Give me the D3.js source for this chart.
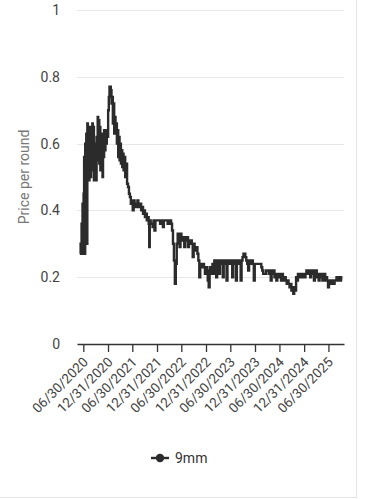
<!DOCTYPE html>
<html><head><meta charset="utf-8">
<script src="https://cdn.jsdelivr.net/npm/d3@7"></script>
<style>
html,body{margin:0;padding:0;background:#fff;}
svg{display:block;font-family:Roboto,"Noto Sans",Arial,sans-serif;}
</style></head>
<body><svg id="c" width="370" height="499"></svg>
<script>
const seriesName = "9mm";
const yTicks = [0, 0.2, 0.4, 0.6, 0.8, 1];
const xTickLabels = ["06/30/2020","12/31/2020","06/30/2021","12/31/2021","06/30/2022","12/31/2022","06/30/2023","12/31/2023","06/30/2024","12/31/2024","06/30/2025"];
const dates = [
"2020-06-06","2020-06-10","2020-06-13","2020-06-17","2020-06-20","2020-06-24","2020-06-28","2020-07-02","2020-07-06","2020-07-10",
"2020-07-14","2020-07-18","2020-07-22","2020-07-26","2020-07-30","2020-08-03","2020-08-07","2020-08-11","2020-08-15","2020-08-19",
"2020-08-23","2020-08-27","2020-09-01","2020-09-05","2020-09-09","2020-09-13","2020-09-17","2020-09-21","2020-09-25","2020-09-29",
"2020-10-03","2020-10-07","2020-10-11","2020-10-15","2020-10-19","2020-10-23","2020-10-27","2020-10-31","2020-11-04","2020-11-08",
"2020-11-12","2020-11-16","2020-11-20","2020-11-24","2020-11-28","2020-12-02","2020-12-07","2020-12-12","2020-12-17","2020-12-22",
"2020-12-27","2021-01-01","2021-01-06","2021-01-11","2021-01-16","2021-01-21","2021-01-26","2021-01-31","2021-02-05","2021-02-10",
"2021-02-15","2021-02-20","2021-02-25","2021-03-02","2021-03-07","2021-03-12","2021-03-17","2021-03-22","2021-03-27","2021-04-01",
"2021-04-06","2021-04-11","2021-04-16","2021-04-21","2021-04-26","2021-05-01","2021-05-08","2021-05-15","2021-05-22","2021-05-29",
"2021-06-05","2021-06-12","2021-06-19","2021-06-26","2021-07-03","2021-07-10","2021-07-17","2021-07-24","2021-07-31","2021-08-07",
"2021-08-14","2021-08-21","2021-08-28","2021-09-04","2021-09-11","2021-09-18","2021-09-25","2021-10-02","2021-10-09","2021-10-16",
"2021-10-23","2021-10-30","2021-11-03","2021-11-07","2021-11-14","2021-11-21","2021-11-28","2021-12-05","2021-12-12","2021-12-19",
"2021-12-26","2022-01-09","2022-01-23","2022-02-06","2022-02-13","2022-02-20","2022-03-06","2022-03-20","2022-04-03","2022-04-10",
"2022-04-15","2022-04-22","2022-04-29","2022-05-06","2022-05-13","2022-05-20","2022-05-27","2022-06-03","2022-06-10","2022-06-17",
"2022-06-24","2022-07-01","2022-07-08","2022-07-15","2022-07-22","2022-07-29","2022-08-05","2022-08-12","2022-08-19","2022-08-26",
"2022-09-02","2022-09-09","2022-09-16","2022-09-23","2022-09-30","2022-10-07","2022-10-14","2022-10-21","2022-10-28","2022-11-04",
"2022-11-11","2022-11-18","2022-11-25","2022-12-02","2022-12-09","2022-12-16","2022-12-23","2022-12-30","2023-01-06","2023-01-13",
"2023-01-20","2023-01-27","2023-02-03","2023-02-10","2023-02-17","2023-02-24","2023-03-03","2023-03-10","2023-03-17","2023-03-24",
"2023-03-31","2023-04-07","2023-04-14","2023-04-21","2023-04-28","2023-05-05","2023-05-12","2023-05-19","2023-05-26","2023-06-02",
"2023-06-09","2023-06-16","2023-06-23","2023-06-30","2023-07-07","2023-07-14","2023-07-21","2023-07-28","2023-08-04","2023-08-11",
"2023-08-18","2023-08-25","2023-09-01","2023-09-08","2023-09-15","2023-09-22","2023-09-29","2023-10-06","2023-10-13","2023-10-20",
"2023-10-27","2023-11-03","2023-11-10","2023-11-17","2023-11-24","2023-12-01","2023-12-08","2023-12-15","2023-12-22","2023-12-29",
"2024-01-05","2024-01-19","2024-02-02","2024-02-09","2024-02-16","2024-02-23","2024-03-01","2024-03-08","2024-03-15","2024-03-22",
"2024-03-29","2024-04-05","2024-04-12","2024-04-19","2024-04-26","2024-05-03","2024-05-10","2024-05-17","2024-05-24","2024-05-31",
"2024-06-07","2024-06-14","2024-06-21","2024-06-28","2024-07-05","2024-07-12","2024-07-19","2024-07-26","2024-08-02","2024-08-09",
"2024-08-16","2024-08-23","2024-08-30","2024-09-06","2024-09-13","2024-09-20","2024-09-27","2024-10-04","2024-10-11","2024-10-18",
"2024-10-25","2024-11-01","2024-11-08","2024-11-15","2024-11-22","2024-11-29","2024-12-06","2024-12-13","2024-12-20","2024-12-27",
"2025-01-03","2025-01-10","2025-01-17","2025-01-24","2025-01-31","2025-02-07","2025-02-14","2025-02-21","2025-02-28","2025-03-07",
"2025-03-14","2025-03-21","2025-03-28","2025-04-04","2025-04-11","2025-04-18","2025-04-25","2025-05-02","2025-05-09","2025-05-16",
"2025-05-23","2025-05-30","2025-06-06","2025-06-13","2025-06-20","2025-06-27","2025-07-04","2025-07-11","2025-07-18","2025-07-25",
"2025-08-01","2025-08-08","2025-08-15","2025-08-22","2025-08-29","2025-09-05","2025-09-12","2025-09-19","2025-09-26","2025-10-03",
"2025-10-10"];
const prices = [
0.27,0.30,0.27,0.36,0.28,0.42,0.27,0.45,0.56,0.27,
0.60,0.50,0.63,0.30,0.66,0.52,0.64,0.49,0.60,0.65,
0.50,0.62,0.60,0.66,0.52,0.65,0.49,0.60,0.50,0.58,
0.49,0.62,0.55,0.68,0.58,0.67,0.54,0.65,0.52,0.62,
0.55,0.63,0.50,0.60,0.56,0.64,0.58,0.64,0.60,0.64,
0.62,0.70,0.74,0.77,0.77,0.76,0.72,0.74,0.66,0.72,
0.63,0.68,0.64,0.66,0.60,0.64,0.56,0.62,0.55,0.60,
0.54,0.58,0.53,0.57,0.52,0.56,0.50,0.54,0.48,0.47,
0.45,0.44,0.42,0.43,0.40,0.43,0.41,0.42,0.41,0.43,
0.42,0.41,0.42,0.40,0.41,0.39,0.40,0.38,0.39,0.37,
0.38,0.36,0.29,0.37,0.36,0.36,0.35,0.37,0.34,0.37,
0.37,0.37,0.36,0.37,0.35,0.37,0.37,0.36,0.37,0.37,
0.36,0.34,0.30,0.25,0.18,0.24,0.30,0.33,0.32,0.29,
0.33,0.32,0.31,0.32,0.29,0.32,0.31,0.32,0.29,0.31,
0.30,0.31,0.30,0.26,0.30,0.29,0.28,0.29,0.27,0.25,
0.20,0.24,0.24,0.23,0.24,0.23,0.21,0.23,0.22,0.19,
0.17,0.23,0.21,0.23,0.24,0.21,0.25,0.24,0.20,0.25,
0.24,0.21,0.25,0.24,0.25,0.20,0.25,0.24,0.25,0.19,
0.25,0.24,0.25,0.24,0.25,0.20,0.25,0.24,0.25,0.19,
0.25,0.24,0.25,0.25,0.19,0.25,0.26,0.27,0.27,0.26,
0.25,0.24,0.22,0.25,0.24,0.24,0.25,0.24,0.19,0.24,
0.24,0.24,0.24,0.24,0.23,0.22,0.21,0.21,0.21,0.22,
0.22,0.22,0.21,0.22,0.19,0.22,0.21,0.22,0.20,0.21,
0.19,0.21,0.20,0.21,0.20,0.19,0.21,0.20,0.19,0.20,
0.19,0.18,0.19,0.18,0.17,0.18,0.16,0.17,0.15,0.17,
0.16,0.20,0.19,0.21,0.20,0.21,0.21,0.20,0.21,0.21,
0.20,0.21,0.22,0.21,0.22,0.22,0.20,0.22,0.21,0.22,
0.19,0.21,0.22,0.20,0.21,0.19,0.21,0.20,0.21,0.19,
0.20,0.21,0.19,0.20,0.19,0.17,0.19,0.19,0.18,0.19,
0.19,0.18,0.19,0.19,0.20,0.19,0.20,0.19,0.20,0.19,
0.19];

const parse = d3.timeParse("%Y-%m-%d");
const data = dates.map((d,i)=>({date:parse(d), v:prices[i]})).filter(d=>d.v!==undefined);
const tickDates = xTickLabels.map(s=>d3.timeParse("%m/%d/%Y")(s));

const svg = d3.select("#c");
const mLeft = 77, mRight = 344, mTop = 10, mBottom = 344;

const x = d3.scaleTime()
  .domain([parse("2020-05-14"), parse("2025-10-24")])
  .range([mLeft, mRight]);
const y = d3.scaleLinear().domain([0,1]).range([mBottom, mTop]);

// frame
svg.append("rect").attr("x",-1).attr("y",-1).attr("width",357.5).attr("height",498.5)
  .attr("fill","none").attr("stroke","#e4e4e4").attr("stroke-width",1);

// grid
svg.append("g").selectAll("line").data(yTicks.filter(t=>t>0)).join("line")
  .attr("x1",mLeft).attr("x2",mRight)
  .attr("y1",d=>Math.round(y(d))+0.5).attr("y2",d=>Math.round(y(d))+0.5)
  .attr("stroke","#e6e6e6").attr("stroke-width",1);

// y labels
svg.append("g").selectAll("text").data(yTicks).join("text")
  .attr("x",60).attr("y",d=>y(d)).attr("dy","0.36em")
  .attr("text-anchor","end").attr("font-size",14).attr("fill","#444")
  .text(d=>d3.format("")(d));

// y title
svg.append("text").attr("transform",`translate(29,${(mTop+mBottom)/2}) rotate(-90)`)
  .attr("text-anchor","middle").attr("font-size",14).attr("fill","#777")
  .text("Price per round");

// x axis
const xAxis = d3.axisBottom(x).tickValues(tickDates).tickSize(8).tickSizeOuter(0)
  .tickFormat(d3.timeFormat("%m/%d/%Y"));
const gx = svg.append("g").attr("transform",`translate(0,${mBottom})`).call(xAxis);
gx.select(".domain").attr("stroke","#333").attr("stroke-width",1.3);
gx.selectAll(".tick line").attr("stroke","#333").attr("stroke-width",1.3);
gx.selectAll(".tick text")
  .attr("font-size",13.5).attr("fill","#444").attr("font-family","Roboto, sans-serif")
  .attr("text-anchor","end").attr("dy",null).attr("y",0)
  .attr("transform","translate(5,19) rotate(-45)");

// line
const line = d3.line().x(d=>x(d.date)).y(d=>y(d.v)).curve(d3.curveStepAfter);
svg.append("path").datum(data).attr("d",line)
  .attr("fill","none").attr("stroke","#2b2b2b").attr("stroke-width",2.4).attr("stroke-linejoin","miter");

// legend
const lg = svg.append("g").attr("transform","translate(0,458)");
lg.append("line").attr("x1",151).attr("x2",169).attr("y1",0).attr("y2",0)
  .attr("stroke","#2b2b2b").attr("stroke-width",2.4);
lg.append("circle").attr("cx",160).attr("cy",0).attr("r",4.2).attr("fill","#2b2b2b");
lg.append("text").attr("x",175).attr("y",0).attr("dy","0.36em")
  .attr("font-size",14).attr("fill","#333").text(seriesName);
</script></body></html>
